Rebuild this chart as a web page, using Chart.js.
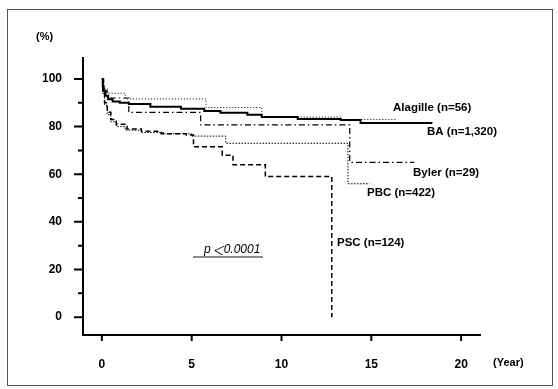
<!DOCTYPE html>
<html>
<head>
<meta charset="utf-8">
<script src="https://cdn.jsdelivr.net/npm/chart.js@4.4.1/dist/chart.umd.min.js"></script>
<style>
  html, body { margin: 0; padding: 0; background: #fff; }
  #wrap { position: relative; width: 558px; height: 389px; }
  #frame { position: absolute; left: 7px; top: 9px; width: 544px; height: 375px; border: 1px solid #555; pointer-events: none; }
  canvas { position: absolute; left: 0; top: 0; }
</style>
</head>
<body>
<div id="wrap">
  <canvas id="kmChart" width="558" height="389"></canvas>
  <div id="frame"></div>
</div>
<script>
// survival curves (years, %)
const baYears = [0, 0.05, 0.1, 0.2, 0.35, 0.6, 1.0, 1.5, 2.7, 4.4, 5.7, 6.6, 8.1, 8.9, 10.9, 13.3, 14.4, 18.4];
const baSurv = [100, 97, 95, 93, 91.5, 90.5, 90, 89.5, 88.3, 87.5, 86.5, 85.8, 85, 84, 83.2, 82.8, 81.5, 81.5];

const alagilleYears = [0, 0.1, 0.3, 1.3, 5.8, 8.9, 13.3, 16.4];
const alagilleSurv = [100, 96, 94, 91.6, 88, 84, 83, 83];

const bylerYears = [0, 0.1, 0.3, 1.5, 5.5, 13.8, 17.4];
const bylerSurv = [100, 95, 92, 86, 80.7, 65, 65];

const pbcYears = [0, 0.05, 0.15, 0.3, 0.5, 0.8, 1.3, 2.2, 3.5, 5.0, 6.9, 13.7, 14.9];
const pbcSurv = [100, 94, 89, 85, 82, 80, 78.5, 77.5, 77, 76, 73, 56, 56];

const pscYears = [0, 0.05, 0.15, 0.3, 0.5, 0.8, 1.4, 2.2, 3.3, 4.7, 5.1, 6.7, 7.3, 9.1, 12.8];
const pscSurv = [100, 95, 90, 86, 83, 81, 79, 78, 77, 76.5, 71.5, 68, 64, 59, 0];

const xTicks = [0, 5, 10, 15, 20];
const yTicks = [0, 20, 40, 60, 80, 100];
const yMinorTicks = [10, 30, 50, 70, 90];

const toPoints = (xs, ys) => xs.map((t, i) => ({ x: t, y: ys[i] }));

// axis tick marks (major + minor), drawn from the scales
const tickMarks = {
  id: 'tickMarks',
  afterDraw(chart) {
    const { ctx, scales: { x, y } } = chart;
    ctx.save();
    ctx.strokeStyle = '#000';
    ctx.lineWidth = 2;
    ctx.beginPath();
    yTicks.forEach(v => {
      const py = y.getPixelForValue(v);
      ctx.moveTo(x.left - 9, py);
      ctx.lineTo(x.left, py);
    });
    yMinorTicks.forEach(v => {
      const py = y.getPixelForValue(v);
      ctx.moveTo(x.left - 5, py);
      ctx.lineTo(x.left, py);
    });
    xTicks.forEach(v => {
      const px = x.getPixelForValue(v);
      ctx.moveTo(px, y.bottom);
      ctx.lineTo(px, y.bottom + 6);
    });
    ctx.stroke();
    ctx.restore();
  }
};

// axis units, curve labels and the p value
const annotations = {
  id: 'annotations',
  afterDraw(chart) {
    const { ctx } = chart;
    ctx.save();
    ctx.fillStyle = '#000';
    ctx.textBaseline = 'middle';
    ctx.font = 'bold 11px "Liberation Sans", Arial, sans-serif';
    ctx.fillText('(%)', 36, 37);
    ctx.fillText('(Year)', 493, 363);

    ctx.font = 'bold 11.5px "Liberation Sans", Arial, sans-serif';
    ctx.fillText('Alagille (n=56)', 393, 108);
    ctx.fillText('BA (n=1,320)', 427, 132);
    ctx.fillText('Byler (n=29)', 413, 173);
    ctx.fillText('PBC (n=422)', 367, 193);
    ctx.fillText('PSC (n=124)', 337, 243);

    // p＜0.0001, italic, with a full-width less-than sign
    let px = 204;
    ctx.font = 'italic 12px "Liberation Sans", Arial, sans-serif';
    ctx.fillText('p', px, 250);
    px += ctx.measureText('p').width + 1;
    ctx.font = 'italic 12px "Noto Sans CJK JP", sans-serif';
    ctx.fillText('＜', px, 250);
    px += ctx.measureText('＜').width;
    ctx.font = 'italic 12px "Liberation Sans Narrow", "Liberation Sans", Arial, sans-serif';
    ctx.fillText('0.0001', px, 250);

    ctx.strokeStyle = '#666';
    ctx.lineWidth = 1.5;
    ctx.beginPath();
    ctx.moveTo(193, 257);
    ctx.lineTo(263, 257);
    ctx.stroke();
    ctx.restore();
  }
};

const curve = (label, xs, ys, width, dash) => ({
  label,
  data: toPoints(xs, ys),
  borderColor: '#000',
  borderWidth: width,
  borderDash: dash,
  stepped: true,
  pointRadius: 0,
  fill: false
});

new Chart(document.getElementById('kmChart').getContext('2d'), {
  type: 'line',
  data: {
    datasets: [
      curve('BA', baYears, baSurv, 2, []),
      curve('Alagille', alagilleYears, alagilleSurv, 1, [1, 2]),
      curve('Byler', bylerYears, bylerSurv, 1.2, [6, 3, 1.5, 3]),
      curve('PBC', pbcYears, pbcSurv, 1, [1.5, 1.5]),
      curve('PSC', pscYears, pscSurv, 1.5, [5, 3])
    ]
  },
  options: {
    responsive: false,
    animation: false,
    devicePixelRatio: 1,
    layout: { padding: { top: 58, right: 78, left: 0, bottom: 0 } },
    plugins: { legend: { display: false }, tooltip: { enabled: false } },
    scales: {
      x: {
        type: 'linear',
        min: -1.05,
        max: 21.05,
        afterBuildTicks: (scale) => { scale.ticks = xTicks.map(v => ({ value: v })); },
        afterFit: (scale) => { scale.height = 54; },
        grid: { display: false, drawTicks: false },
        border: { display: true, color: '#000', width: 2 },
        ticks: {
          color: '#000',
          padding: 22,
          maxRotation: 0,
          font: { family: '"Liberation Sans", Arial, sans-serif', size: 12, weight: 'bold' }
        }
      },
      y: {
        min: -7.5,
        max: 108.8,
        afterBuildTicks: (scale) => { scale.ticks = yTicks.map(v => ({ value: v })); },
        afterFit: (scale) => { scale.width = 83; },
        grid: { display: false, drawTicks: false },
        border: { display: true, color: '#000', width: 2 },
        ticks: {
          color: '#000',
          padding: 21,
          font: { family: '"Liberation Sans", Arial, sans-serif', size: 12, weight: 'bold' }
        }
      }
    }
  },
  plugins: [tickMarks, annotations]
});
</script>
</body>
</html>
